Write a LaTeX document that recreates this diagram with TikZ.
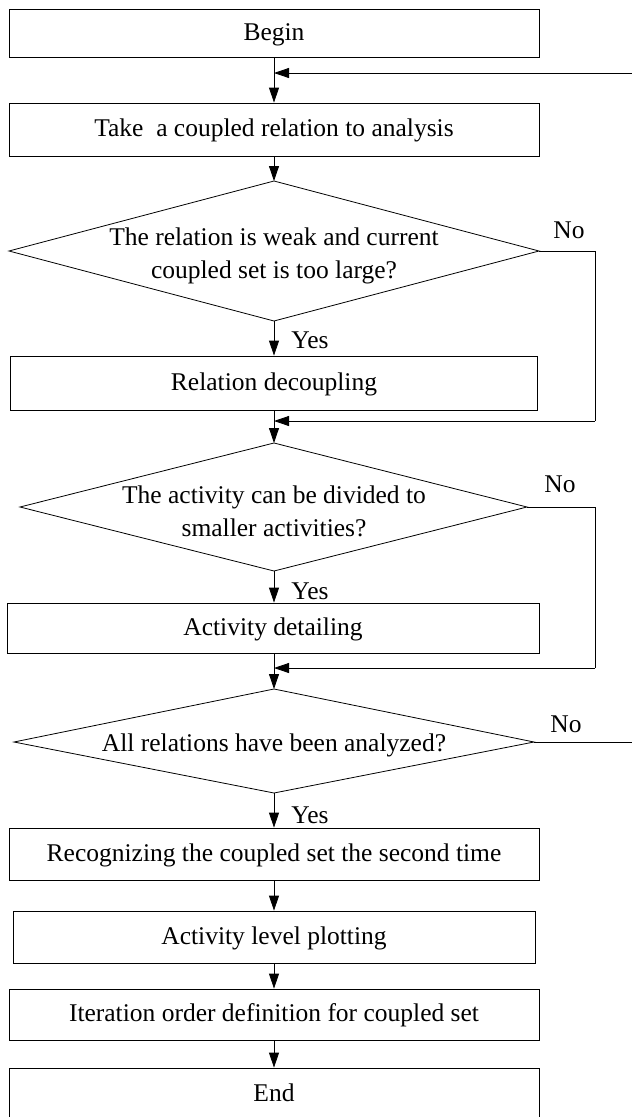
\documentclass[tikz,border=0pt]{standalone}
\usepackage{fontspec}
\setmainfont{Liberation Serif}
\usetikzlibrary{arrows.meta}
\begin{document}
\begin{tikzpicture}[x=1pt,y=-1pt,
  every node/.style={font=\fontsize{25.5}{33}\selectfont},
  procbox/.style={draw, line width=0.8pt, rectangle, inner sep=0pt, align=center, text height=18pt, text depth=4pt},
  dectext/.style={inner sep=0pt, align=center},
  lbl/.style={inner sep=0pt},
  conn/.style={line width=0.8pt},
  arr/.style={conn, -{Triangle[length=15pt,width=10pt]}}]
\clip (0,0) rectangle (632,1117);
\node[procbox, minimum width=530pt, minimum height=48pt] (begin) at (274,33) {Begin};
\node[procbox, minimum width=530pt, minimum height=53pt] (take) at (274,129.5) {Take\ \ a coupled relation to analysis};
% decision 1
\coordinate (d1n) at (274,181);
\coordinate (d1e) at (539,251);
\coordinate (d1s) at (274,321);
\coordinate (d1w) at (9,251);
\draw[conn] (d1n) -- (d1e) -- (d1s) -- (d1w) -- cycle;
\node[dectext] (d1) at (274,256) {The relation is weak and current\\coupled set is too large?};
\node[procbox, minimum width=527pt, minimum height=54pt] (dec) at (274,383) {Relation decoupling};
% decision 2
\coordinate (d2n) at (274,443);
\coordinate (d2e) at (527,507);
\coordinate (d2s) at (274,571);
\coordinate (d2w) at (20,507);
\draw[conn] (d2n) -- (d2e) -- (d2s) -- (d2w) -- cycle;
\node[dectext] (d2) at (274,511) {The activity can be divided to\\smaller activities?};
\node[procbox, minimum width=532pt, minimum height=50pt] (det) at (273,628) {Activity detailing};
% decision 3
\coordinate (d3n) at (274,689);
\coordinate (d3e) at (534,742);
\coordinate (d3s) at (274,793);
\coordinate (d3w) at (14,742);
\draw[conn] (d3n) -- (d3e) -- (d3s) -- (d3w) -- cycle;
\node[dectext] (d3) at (274,745) {All relations have been analyzed?};
\node[procbox, minimum width=530pt, minimum height=52pt] (rec) at (274,854) {Recognizing the coupled set the second time};
\node[procbox, minimum width=522pt, minimum height=52pt] (plot) at (274,937) {Activity level plotting};
\node[procbox, minimum width=530pt, minimum height=51pt] (iter) at (274,1014.5) {Iteration order definition for coupled set};
\node[procbox, minimum width=530pt, minimum height=52pt] (end) at (274,1094) {End};

% labels
\node[lbl] (no1) at (569,230) {No};
\node[lbl] (yes1) at (310,340) {Yes};
\node[lbl] (no2) at (560,484) {No};
\node[lbl] (yes2) at (310,591) {Yes};
\node[lbl] (no3) at (566,724) {No};
\node[lbl] (yes3) at (310,815) {Yes};

% coordinates
\coordinate (m0) at (274,73);
\coordinate (e0) at (640,73);
\coordinate (m1) at (274,421);
\coordinate (r1) at (595,251);
\coordinate (r1b) at (595,421);
\coordinate (m2) at (274,668);
\coordinate (r2) at (595,507);
\coordinate (r2b) at (595,668);
\coordinate (e3) at (640,742);

% main flow
\draw[arr] (begin.south) -- (take.north);
\draw[arr] (e0) -- (m0);
\draw[arr] (take.south) -- (d1n);
\draw[arr] (d1s) -- (dec.north);
\draw[arr] (dec.south) -- (d2n);
\draw[conn] (d1e) -- (r1) -- (r1b);
\draw[arr] (r1b) -- (m1);
\draw[arr] (d2s) -- (det.north -| d2s);
\draw[arr] (det.south -| d3n) -- (d3n);
\draw[conn] (d2e) -- (r2) -- (r2b);
\draw[arr] (r2b) -- (m2);
\draw[arr] (d3s) -- (rec.north);
\draw[conn] (d3e) -- (e3);
\draw[arr] (rec.south) -- (plot.north);
\draw[arr] (plot.south) -- (iter.north);
\draw[arr] (iter.south) -- (end.north);
\end{tikzpicture}
\end{document}
